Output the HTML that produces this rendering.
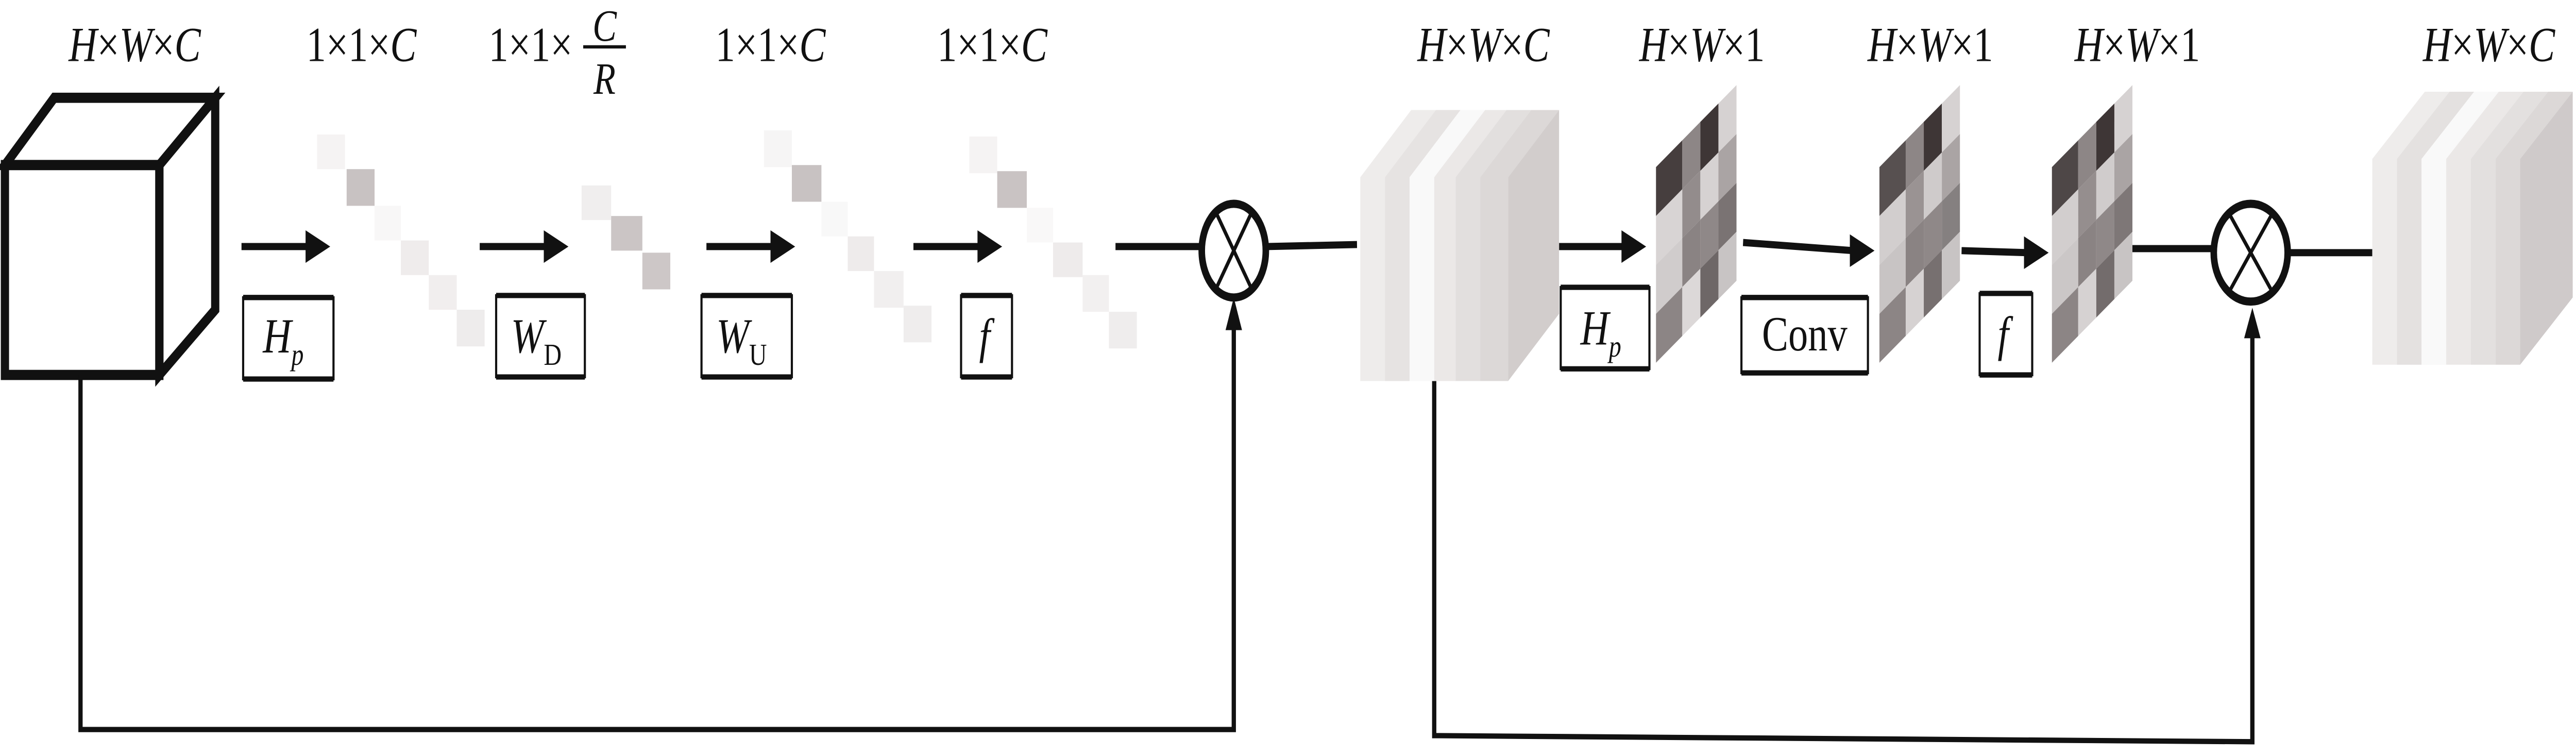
<!DOCTYPE html>
<html><head><meta charset="utf-8">
<style>
html,body{margin:0;padding:0;background:#fff;width:100vw;height:100vh;overflow:hidden;}
svg{display:block;width:100vw;height:100vh;}
text{font-family:"Liberation Serif",serif;fill:#111;}
.it{font-style:italic;}
</style></head>
<body>
<svg xmlns="http://www.w3.org/2000/svg" width="100%" height="100%" viewBox="0 0 1568 371" preserveAspectRatio="none">
<g font-size="24" text-anchor="middle">
<text x="82" y="30"><tspan class="it">H</tspan>×<tspan class="it">W</tspan>×<tspan class="it">C</tspan></text>
<text x="220" y="30">1×1×<tspan class="it">C</tspan></text>
<text x="323" y="30">1×1×</text>
<text x="368" y="20" class="it" font-size="22">C</text>
<line x1="355" y1="23" x2="381" y2="23" stroke="#111" stroke-width="1.6"/>
<text x="368" y="46" class="it" font-size="22">R</text>
<text x="469" y="30">1×1×<tspan class="it">C</tspan></text>
<text x="604" y="30">1×1×<tspan class="it">C</tspan></text>
<text x="903" y="30"><tspan class="it">H</tspan>×<tspan class="it">W</tspan>×<tspan class="it">C</tspan></text>
<text x="1036" y="30"><tspan class="it">H</tspan>×<tspan class="it">W</tspan>×1</text>
<text x="1175" y="30"><tspan class="it">H</tspan>×<tspan class="it">W</tspan>×1</text>
<text x="1301" y="30"><tspan class="it">H</tspan>×<tspan class="it">W</tspan>×1</text>
<text x="1515" y="30"><tspan class="it">H</tspan>×<tspan class="it">W</tspan>×<tspan class="it">C</tspan></text>
</g>

<g fill="none" stroke="#111" stroke-width="5" stroke-linejoin="miter">
<polygon points="3,81 33,48 131,48 97,81"/>
<polygon points="97,81 131,48 131,152 97,184"/>
<rect x="3" y="81" width="94" height="103"/>
</g>

<g>
<rect x="193" y="66" width="17" height="17" fill="#f5f3f3"/>
<rect x="211" y="83" width="17" height="18" fill="#c8c2c2"/>
<rect x="228" y="101" width="16" height="17" fill="#f8f7f7"/>
<rect x="244" y="118" width="17" height="17" fill="#efecec"/>
<rect x="261" y="135" width="17" height="17" fill="#f1eeee"/>
<rect x="278" y="152" width="17" height="18" fill="#eeecec"/>
<rect x="354" y="91" width="18" height="17" fill="#f0eeee"/>
<rect x="372" y="106" width="19" height="17" fill="#cbc5c5"/>
<rect x="391" y="124" width="17" height="18" fill="#cdc7c7"/>
<rect x="465" y="64" width="17" height="18" fill="#f6f5f5"/>
<rect x="482" y="81" width="18" height="18" fill="#c8c2c2"/>
<rect x="500" y="99" width="16" height="17" fill="#f8f8f8"/>
<rect x="516" y="116" width="16" height="17" fill="#eeebeb"/>
<rect x="532" y="133" width="18" height="18" fill="#f1efef"/>
<rect x="550" y="150" width="17" height="18" fill="#efeded"/>
<rect x="590" y="67" width="17" height="18" fill="#f5f3f3"/>
<rect x="607" y="84" width="18" height="18" fill="#c9c3c3"/>
<rect x="625" y="102" width="16" height="17" fill="#f9f8f8"/>
<rect x="641" y="119" width="18" height="17" fill="#eeebeb"/>
<rect x="659" y="135" width="16" height="18" fill="#f2f0f0"/>
<rect x="675" y="153" width="17" height="18" fill="#efeded"/>
</g>

<g fill="#111" stroke="#111">
<line x1="147" y1="121" x2="188" y2="121" stroke-width="3.5"/><polygon points="186,113 201,121 186,129" stroke="none"/>
<line x1="292" y1="121" x2="333" y2="121" stroke-width="3.5"/><polygon points="331,113 346,121 331,129" stroke="none"/>
<line x1="430" y1="121" x2="471" y2="121" stroke-width="3.5"/><polygon points="469,113 484,121 469,129" stroke="none"/>
<line x1="556" y1="121" x2="597" y2="121" stroke-width="3.5"/><polygon points="595,113 610,121 595,129" stroke="none"/>
<line x1="949" y1="121" x2="989" y2="121" stroke-width="3.5"/><polygon points="987,113 1002,121 987,129" stroke="none"/>
<line x1="1061" y1="119" x2="1128" y2="123" stroke-width="3.5"/><polygon points="1126,115 1141,123 1126,131" stroke="none"/>
<line x1="1194" y1="123" x2="1234" y2="124" stroke-width="3.5"/><polygon points="1232,116 1247,124 1232,132" stroke="none"/>
<line x1="679" y1="121" x2="731" y2="121" stroke-width="3.5"/>
<line x1="771" y1="121" x2="826" y2="120" stroke-width="3.5"/>
<line x1="1296" y1="122" x2="1347" y2="122" stroke-width="3.5"/>
<line x1="1393" y1="124" x2="1444" y2="124" stroke-width="3.5"/>
</g>

<g fill="none" stroke="#111" stroke-width="4">
<ellipse cx="751" cy="123" rx="19.5" ry="23"/>
<line x1="740" y1="104" x2="762" y2="142" stroke-width="2"/>
<line x1="762" y1="104" x2="740" y2="142" stroke-width="2"/>
<ellipse cx="1370" cy="124" rx="22.5" ry="24"/>
<line x1="1357" y1="105" x2="1383" y2="143" stroke-width="2"/>
<line x1="1383" y1="105" x2="1357" y2="143" stroke-width="2"/>
</g>

<g fill="none" stroke="#111" stroke-width="2.6">
<polyline points="49,184 49,358 751,358 751,160"/>
<polyline points="873,187 873,361 1371,364 1371,164"/>
</g>
<polygon points="746,162 751,146 756,162" fill="#111"/>
<polygon points="1366,166 1371,151 1376,166" fill="#111"/>

<g>
<polygon points="828,187 828,87 859,54 874,54 843,87 843,187" fill="#eeeceb"/>
<polygon points="843,187 843,87 874,54 889,54 858,87 858,187" fill="#e6e3e2"/>
<polygon points="858,187 858,87 889,54 904,54 873,87 873,187" fill="#f9f9f9"/>
<polygon points="873,187 873,87 904,54 917,54 886,87 886,187" fill="#ebe8e7"/>
<polygon points="886,187 886,87 917,54 932,54 901,87 901,187" fill="#e2dfde"/>
<polygon points="901,187 901,87 932,54 949,54 918,87 918,187" fill="#dcd8d7"/>
<polygon points="918,87 949,54 949,154 918,187" fill="#d2cdcc"/>
</g>
<g>
<polygon points="1444,179 1444,78 1476,45 1491,45 1459,78 1459,179" fill="#eeeceb"/>
<polygon points="1459,179 1459,78 1491,45 1506,45 1474,78 1474,179" fill="#e4e1e0"/>
<polygon points="1474,179 1474,78 1506,45 1521,45 1489,78 1489,179" fill="#f9f9f9"/>
<polygon points="1489,179 1489,78 1521,45 1536,45 1504,78 1504,179" fill="#ebe8e7"/>
<polygon points="1504,179 1504,78 1536,45 1551,45 1519,78 1519,179" fill="#e3e0df"/>
<polygon points="1519,179 1519,78 1551,45 1566,45 1534,78 1534,179" fill="#dcd8d7"/>
<polygon points="1534,78 1566,45 1566,146 1534,179" fill="#cfcaca"/>
</g>

<g transform="translate(1008,82) skewY(-39.4)">
<rect x="0" y="0" width="16" height="24" fill="#463e3e"/><rect x="0" y="24" width="16" height="24" fill="#d8d4d4"/><rect x="0" y="48" width="16" height="24" fill="#d0cccc"/><rect x="0" y="72" width="16" height="24" fill="#8c8585"/>
<rect x="16" y="0" width="11" height="24" fill="#8d8686"/><rect x="16" y="24" width="11" height="24" fill="#938c8c"/><rect x="16" y="48" width="11" height="24" fill="#8a8383"/><rect x="16" y="72" width="11" height="24" fill="#dcd8d8"/>
<rect x="27" y="0" width="11" height="24" fill="#3e3636"/><rect x="27" y="24" width="11" height="24" fill="#d6d2d2"/><rect x="27" y="48" width="11" height="24" fill="#8f8888"/><rect x="27" y="72" width="11" height="24" fill="#6e6767"/>
<rect x="38" y="0" width="11" height="24" fill="#d6d2d2"/><rect x="38" y="24" width="11" height="24" fill="#aaa4a4"/><rect x="38" y="48" width="11" height="24" fill="#7a7373"/><rect x="38" y="72" width="11" height="24" fill="#c8c4c4"/>
</g>
<g transform="translate(1144,82) skewY(-39.4)">
<rect x="0" y="0" width="16" height="24" fill="#575050"/><rect x="0" y="24" width="16" height="24" fill="#d2cece"/><rect x="0" y="48" width="16" height="24" fill="#c8c4c4"/><rect x="0" y="72" width="16" height="24" fill="#8c8585"/>
<rect x="16" y="0" width="11" height="24" fill="#8d8686"/><rect x="16" y="24" width="11" height="24" fill="#9a9393"/><rect x="16" y="48" width="11" height="24" fill="#8a8383"/><rect x="16" y="72" width="11" height="24" fill="#d6d2d2"/>
<rect x="27" y="0" width="11" height="24" fill="#3e3636"/><rect x="27" y="24" width="11" height="24" fill="#cfcbcb"/><rect x="27" y="48" width="11" height="24" fill="#8f8888"/><rect x="27" y="72" width="11" height="24" fill="#777070"/>
<rect x="38" y="0" width="11" height="24" fill="#d6d2d2"/><rect x="38" y="24" width="11" height="24" fill="#aaa4a4"/><rect x="38" y="48" width="11" height="24" fill="#858080"/><rect x="38" y="72" width="11" height="24" fill="#c8c4c4"/>
</g>
<g transform="translate(1249,82) skewY(-39.4)">
<rect x="0" y="0" width="16" height="24" fill="#4e4747"/><rect x="0" y="24" width="16" height="24" fill="#d2cece"/><rect x="0" y="48" width="16" height="24" fill="#cbc7c7"/><rect x="0" y="72" width="16" height="24" fill="#8c8585"/>
<rect x="16" y="0" width="11" height="24" fill="#8d8686"/><rect x="16" y="24" width="11" height="24" fill="#958e8e"/><rect x="16" y="48" width="11" height="24" fill="#8a8383"/><rect x="16" y="72" width="11" height="24" fill="#d6d2d2"/>
<rect x="27" y="0" width="11" height="24" fill="#3e3636"/><rect x="27" y="24" width="11" height="24" fill="#d0cccc"/><rect x="27" y="48" width="11" height="24" fill="#8f8888"/><rect x="27" y="72" width="11" height="24" fill="#736c6c"/>
<rect x="38" y="0" width="11" height="24" fill="#d6d2d2"/><rect x="38" y="24" width="11" height="24" fill="#aaa4a4"/><rect x="38" y="48" width="11" height="24" fill="#7e7777"/><rect x="38" y="72" width="11" height="24" fill="#c8c4c4"/>
</g>

<g fill="#fff" stroke="#111" stroke-width="1.3">
<rect x="148" y="146" width="55" height="40"/>
<rect x="302" y="145" width="54" height="40"/>
<rect x="427" y="145" width="55" height="40"/>
<rect x="585" y="145" width="31" height="40"/>
<rect x="950" y="141" width="54" height="40"/>
<rect x="1060" y="146" width="77" height="37"/>
<rect x="1205" y="144" width="32" height="40"/>
</g>
<g stroke="#111" stroke-width="2.6">
<line x1="148" y1="146" x2="203" y2="146"/><line x1="148" y1="186" x2="203" y2="186"/>
<line x1="302" y1="145" x2="356" y2="145"/><line x1="302" y1="185" x2="356" y2="185"/>
<line x1="427" y1="145" x2="482" y2="145"/><line x1="427" y1="185" x2="482" y2="185"/>
<line x1="585" y1="145" x2="616" y2="145"/><line x1="585" y1="185" x2="616" y2="185"/>
<line x1="950" y1="141" x2="1004" y2="141"/><line x1="950" y1="181" x2="1004" y2="181"/>
<line x1="1060" y1="146" x2="1137" y2="146"/><line x1="1060" y1="183" x2="1137" y2="183"/>
<line x1="1205" y1="144" x2="1237" y2="144"/><line x1="1205" y1="184" x2="1237" y2="184"/>
</g>
<g font-size="24">
<text x="160" y="173" class="it">H<tspan font-size="15" dy="6">p</tspan></text>
<text x="311" y="173" class="it">W<tspan font-size="15" dy="6" font-style="normal">D</tspan></text>
<text x="436" y="173" class="it">W<tspan font-size="15" dy="6" font-style="normal">U</tspan></text>
<text x="596" y="173" class="it">f</text>
<text x="962" y="169" class="it">H<tspan font-size="15" dy="6">p</tspan></text>
<text x="1098.5" y="172" text-anchor="middle">Conv</text>
<text x="1216" y="172" class="it">f</text>
</g>
</svg>
</body></html>
